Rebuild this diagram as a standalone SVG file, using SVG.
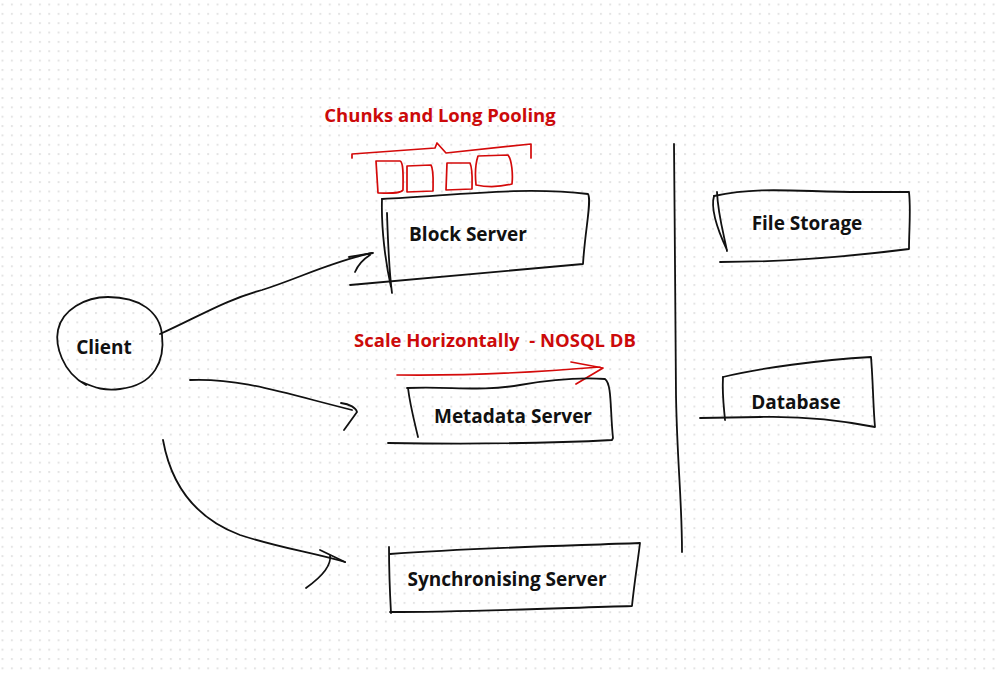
<svg xmlns="http://www.w3.org/2000/svg" width="1000" height="673" viewBox="0 0 1000 673">
<defs>
<pattern id="dots" x="1.5" y="3.5" width="9.35" height="9.35" patternUnits="userSpaceOnUse">
<rect x="0" y="0" width="2" height="2" fill="#e4e4e4"/>
</pattern>
<style>
.ink{fill:none;stroke:#111;stroke-width:1.8;stroke-linecap:round;stroke-linejoin:round}
.red{fill:none;stroke:#d40a0a;stroke-width:1.7;stroke-linecap:round;stroke-linejoin:round}
.lbl{font-family:"Open Sans","Liberation Sans",sans-serif;font-weight:700;font-size:19px;fill:#111;text-anchor:middle}
.note{font-family:"Open Sans","Liberation Sans",sans-serif;font-weight:700;font-size:18.5px;fill:#cc0a0a;text-anchor:middle;white-space:pre}
</style>
</defs>
<rect width="1000" height="673" fill="#fff"/>
<rect width="1000" height="673" fill="url(#dots)"/>

<g id="connectors">
<path class="ink" d="M160,334 C200,316 225,300 262,290 C300,278 330,262 372,253"/>
<path class="ink" d="M349,257 L373,253 M355,272 C358,265 362,260 370,255"/>
<path class="ink" d="M190,380 C240,378 280,392 352,410"/>
<path class="ink" d="M341,403 C350,404 356,408 357,412 L344,430"/>
<path class="ink" d="M163,440 C172,490 200,520 240,535 C280,548 310,552 345,562"/>
<path class="ink" d="M320,550 L345,562 M330,555 C332,566 320,578 306,588"/>
<path class="ink" d="M674,144 C675,230 675,330 676,395 C677,460 682,500 682,552"/>
<path class="red" d="M397,375 C470,376 540,372 600,367 M571,362 L603,368 L576,384"/>
</g>

<g id="chunks">
<path class="red" d="M352,158 L352,154 L435,148 L437,143 L446,153 L531,144 L531,158"/>
<path class="red" d="M376,161 L400,161 C404,162 403,180 403,190 C400,194 390,193 378,193 Z"/>
<path class="red" d="M407,166 L431,165 C434,170 433,182 433,191 L407,192 Z"/>
<path class="red" d="M447,163 L470,163 C473,170 472,180 472,189 L446,190 Z"/>
<path class="red" d="M478,156 L508,155 C512,160 513,175 512,184 C500,187 486,187 476,185 C475,175 475,165 478,156 Z"/>
<text class="note" x="440" y="122">Chunks and Long Pooling</text>
</g>

<g id="block-server">
<path class="ink" d="M382,199 C450,196 520,186 588,194 C592,200 585,230 583,264 L350,285"/>
<path class="ink" d="M382,199 C381,230 386,265 391,287 M387,213 C388,245 389,270 392,293"/>
<text class="lbl" x="468" y="241">Block Server</text>
</g>

<g id="client">
<path class="ink" d="M86,385 C62,372 55,345 58,330 C62,310 85,297 108,297 C140,297 160,312 162,335 C165,360 155,385 120,389 C105,391 95,388 82,382"/>
<text class="lbl" x="104" y="354">Client</text>
</g>

<g id="metadata-server">
<text class="note" x="495" y="347">Scale Horizontally  - NOSQL DB</text>
<path class="ink" d="M407,388 C450,386 480,392 520,385 C560,378 590,378 605,379 C612,384 610,410 613,438 L612,440 C540,444 460,444 388,443"/>
<path class="ink" d="M408,388 C410,405 414,420 418,437"/>
<text class="lbl" x="513" y="423">Metadata Server</text>
</g>

<g id="file-storage">
<path class="ink" d="M714,196 C760,186 800,192 860,192 L909,192 C911,210 909,230 909,249 C870,254 800,262 720,262"/>
<path class="ink" d="M714,196 C710,210 720,235 727,250 M717,192 C718,215 724,235 727,251"/>
<text class="lbl" x="807" y="230">File Storage</text>
</g>

<g id="database">
<path class="ink" d="M723,377 C760,368 820,360 871,357 C873,380 873,405 875,427 C840,420 800,416 760,417 L700,418"/>
<path class="ink" d="M723,377 C722,395 724,408 725,420"/>
<text class="lbl" x="796" y="409">Database</text>
</g>

<g id="sync-server">
<path class="ink" d="M390,554 C470,548 560,546 640,543 C638,560 634,585 632,606 C560,608 470,612 390,612"/>
<path class="ink" d="M389,547 C389,570 390,595 391,613"/>
<text class="lbl" x="507" y="586">Synchronising Server</text>
</g>
</svg>
